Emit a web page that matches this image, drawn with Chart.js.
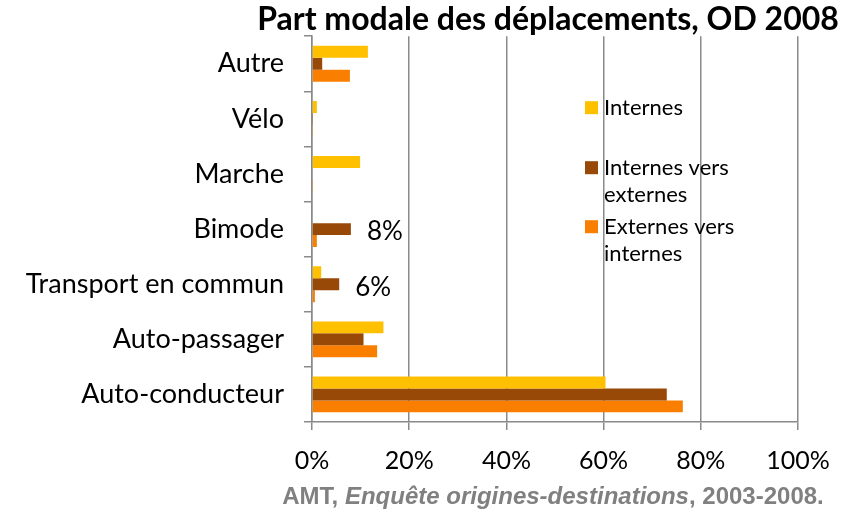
<!DOCTYPE html>
<html>
<head>
<meta charset="utf-8">
<script src="https://cdn.jsdelivr.net/npm/chart.js@4.4.1/dist/chart.umd.min.js"></script>
<style>
  html, body { margin: 0; padding: 0; background: #fff; }
  #wrap { position: relative; width: 846px; height: 517px; }
</style>
</head>
<body>
<div id="wrap"><canvas id="c" width="846" height="517"></canvas></div>
<script>
const categories = ['Autre', 'Vélo', 'Marche', 'Bimode', 'Transport en commun', 'Auto-passager', 'Auto-conducteur'];
const seriesNames = ['Internes', 'Internes vers externes', 'Externes vers internes'];
const internes = [11.5, 1.0, 9.9, 0, 1.9, 14.7, 60.4];
const internesVersExternes = [2.1, 0.1, 0, 8.0, 5.6, 10.6, 73.0];
const externesVersInternes = [7.8, 0.1, 0.1, 1.0, 0.6, 13.4, 76.3];
const pointLabelsIVE = ['', '', '', '8%', '6%', '', ''];
const xTicks = [0, 20, 40, 60, 80, 100];
const titleText = 'Part modale des déplacements, OD 2008';
const sourceParts = ['AMT, ', 'Enquête origines-destinations', ', 2003-2008.'];

const colors = ['#FFC000', '#984807', '#FA7F00'];
const FONT = 'Lato, "Open Sans", sans-serif';

const overlay = {
  id: 'overlay',
  afterDraw(chart) {
    const ctx = chart.ctx;
    const a = chart.chartArea;
    ctx.save();
    // title
    ctx.fillStyle = '#000';
    ctx.font = 'bold 32px ' + FONT;
    ctx.textAlign = 'center';
    ctx.textBaseline = 'middle';
    ctx.fillText(titleText, 548, 20);

    // data labels on the 2nd series
    const meta = chart.getDatasetMeta(1);
    ctx.font = '26px ' + FONT;
    ctx.textAlign = 'left';
    ctx.textBaseline = 'middle';
    meta.data.forEach((bar, i) => {
      const t = pointLabelsIVE[i];
      if (t) ctx.fillText(t, bar.x + 16, bar.y + 3);
    });

    // legend
    const lx = a.left + 273;
    const items = [
      { lines: ['Internes'], y: a.top + 72 },
      { lines: ['Internes vers', 'externes'], y: a.top + 132 },
      { lines: ['Externes vers', 'internes'], y: a.top + 191 }
    ];
    ctx.font = '22px ' + FONT;
    items.forEach((it, k) => {
      ctx.fillStyle = colors[k];
      ctx.fillRect(lx, it.y - 7, 13, 13);
      ctx.fillStyle = '#000';
      it.lines.forEach((ln, j) => {
        ctx.fillText(ln, lx + 19, it.y + j * 27);
      });
    });

    // source line
    ctx.fillStyle = '#808080';
    const fonts = ['bold 24px "Liberation Sans", Arial, sans-serif',
                   'italic bold 24px "Liberation Sans", Arial, sans-serif',
                   'bold 24px "Liberation Sans", Arial, sans-serif'];
    let total = 0;
    const widths = sourceParts.map((p, i) => { ctx.font = fonts[i]; const w = ctx.measureText(p).width; total += w; return w; });
    let x = 553 - total / 2;
    ctx.textAlign = 'left';
    sourceParts.forEach((p, i) => {
      ctx.font = fonts[i];
      ctx.fillText(p, x, 497);
      x += widths[i];
    });
    ctx.restore();
  }
};

new Chart(document.getElementById('c'), {
  type: 'bar',
  data: {
    labels: categories,
    datasets: [
      { label: seriesNames[0], data: internes, backgroundColor: colors[0] },
      { label: seriesNames[1], data: internesVersExternes, backgroundColor: colors[1] },
      { label: seriesNames[2], data: externesVersInternes, backgroundColor: colors[2] }
    ]
  },
  options: {
    indexAxis: 'y',
    responsive: false,
    animation: false,
    devicePixelRatio: 1,
    layout: { padding: { top: 30, right: 48, left: 0, bottom: 0 } },
    datasets: { bar: { categoryPercentage: 0.65, barPercentage: 1.0 } },
    plugins: { legend: { display: false }, title: { display: false }, tooltip: { enabled: false } },
    scales: {
      x: {
        min: 0, max: 100,
        afterBuildTicks(scale) { scale.ticks = xTicks.map(v => ({ value: v })); },
        afterFit(scale) { scale.height = 95; },
        ticks: { callback: v => v + '%', color: '#000', font: { family: FONT, size: 25 }, padding: 16 },
        grid: { color: '#8a8a8a', lineWidth: 1.5, tickLength: 8 },
        border: { color: '#8a8a8a', width: 1.5 }
      },
      y: {
        afterFit(scale) { scale.width = 312; },
        ticks: { color: '#000', font: { family: FONT, size: 27 }, padding: 20 },
        grid: { drawOnChartArea: false, color: '#8a8a8a', lineWidth: 1.5, tickLength: 8 },
        border: { color: '#8a8a8a', width: 1.5 }
      }
    }
  },
  plugins: [overlay]
});
</script>
</body>
</html>
